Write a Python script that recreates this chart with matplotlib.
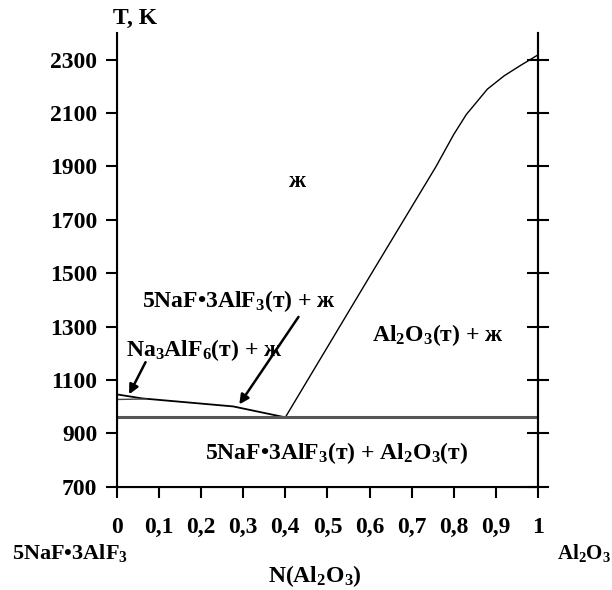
import matplotlib.pyplot as plt
import numpy as np

plt.rcParams['font.family'] = ['Liberation Serif', 'DejaVu Serif']
plt.rcParams['font.weight'] = 'bold'
plt.rcParams['mathtext.fontset'] = 'custom'
plt.rcParams['mathtext.rm'] = 'Liberation Serif:bold'
plt.rcParams['mathtext.it'] = 'Liberation Serif:bold'
plt.rcParams['mathtext.bf'] = 'Liberation Serif:bold'

# liquidus curves (N(Al2O3), T K)
cryolite_n = [0.0, 0.06, 0.276, 0.394]
cryolite_t = [1046, 1031, 1001, 962]
cryolite_low_n = [0.0, 0.07]
cryolite_low_t = [1027, 1029]
alumina_n = [0.40, 0.605, 0.758, 0.80, 0.83, 0.88, 0.92, 0.96, 1.0]
alumina_t = [960, 1500, 1900, 2020, 2095, 2190, 2240, 2280, 2318]
eutectic_t = 960

y_ticks = [700, 900, 1100, 1300, 1500, 1700, 1900, 2100, 2300]
x_ticks = np.round(np.arange(0, 1.01, 0.1), 1)
x_labels = ['0', '0,1', '0,2', '0,3', '0,4', '0,5', '0,6', '0,7', '0,8', '0,9', '1']

fig = plt.figure(figsize=(6.12, 5.90), dpi=100)
ax = fig.add_axes([0.191, 0.175, 0.688, 0.769])

ax.plot(cryolite_n, cryolite_t, color='black', lw=1.3)
ax.plot(cryolite_low_n, cryolite_low_t, color='#444444', lw=1.0)
ax.plot(alumina_n, alumina_t, color='black', lw=1.0)
ax.plot([0, 1], [eutectic_t, eutectic_t], color='#555555', lw=2.2)

ax.set_xlim(0, 1)
ax.set_ylim(700, 2400)
ax.spines['top'].set_visible(False)
for s in ['left', 'right', 'bottom']:
    ax.spines[s].set_linewidth(1.5)

ax.set_yticks(y_ticks)
ax.set_yticklabels([str(t) for t in y_ticks], fontsize=17)
ax.set_xticks(x_ticks)
ax.set_xticklabels(x_labels, fontsize=17)
ax.tick_params(axis='y', direction='out', length=8, width=1.5, pad=6)
ax.tick_params(axis='x', direction='out', length=8, width=1.5, pad=14)

# right axis with crossing ticks
ax2 = ax.twinx()
ax2.set_ylim(ax.get_ylim())
ax2.set_yticks(y_ticks)
ax2.set_yticklabels([])
ax2.tick_params(axis='y', direction='inout', length=16, width=1.5)
ax2.spines['top'].set_visible(False)
ax2.spines['right'].set_linewidth(1.5)

fs = 17
ax.text(0.43, 1844, 'ж', fontsize=fs, ha='center', va='center')
ax.text(0.29, 1395, '5NaF•3AlF$_3$(т) + ж', fontsize=fs, ha='center', va='center')
ax.text(0.207, 1214, 'Na$_3$AlF$_6$(т) + ж', fontsize=fs, ha='center', va='center')
ax.text(0.763, 1270, 'Al$_2$O$_3$(т) + ж', fontsize=fs, ha='center', va='center')
ax.text(0.523, 825, '5NaF•3AlF$_3$(т) + Al$_2$O$_3$(т)', fontsize=fs, ha='center', va='center')

ax.annotate('', xy=(0.026, 1037), xytext=(0.071, 1176),
            arrowprops=dict(arrowstyle='-|>', color='black', lw=1.8, mutation_scale=14))
ax.annotate('', xy=(0.287, 1000), xytext=(0.435, 1345),
            arrowprops=dict(arrowstyle='-|>', color='black', lw=1.8, mutation_scale=14))

fig.text(135 / 612, 1 - 18 / 590, 'T, K', fontsize=fs, ha='center', va='center')
fig.text(70 / 612, 1 - 553 / 590, '5NaF•3AlF$_3$', fontsize=16, ha='center', va='center')
fig.text(584 / 612, 1 - 553 / 590, 'Al$_2$O$_3$', fontsize=15, ha='center', va='center')
fig.text(315 / 612, 1 - 576 / 590, 'N(Al$_2$O$_3$)', fontsize=fs, ha='center', va='center')

fig.savefig('out.png', dpi=100)
